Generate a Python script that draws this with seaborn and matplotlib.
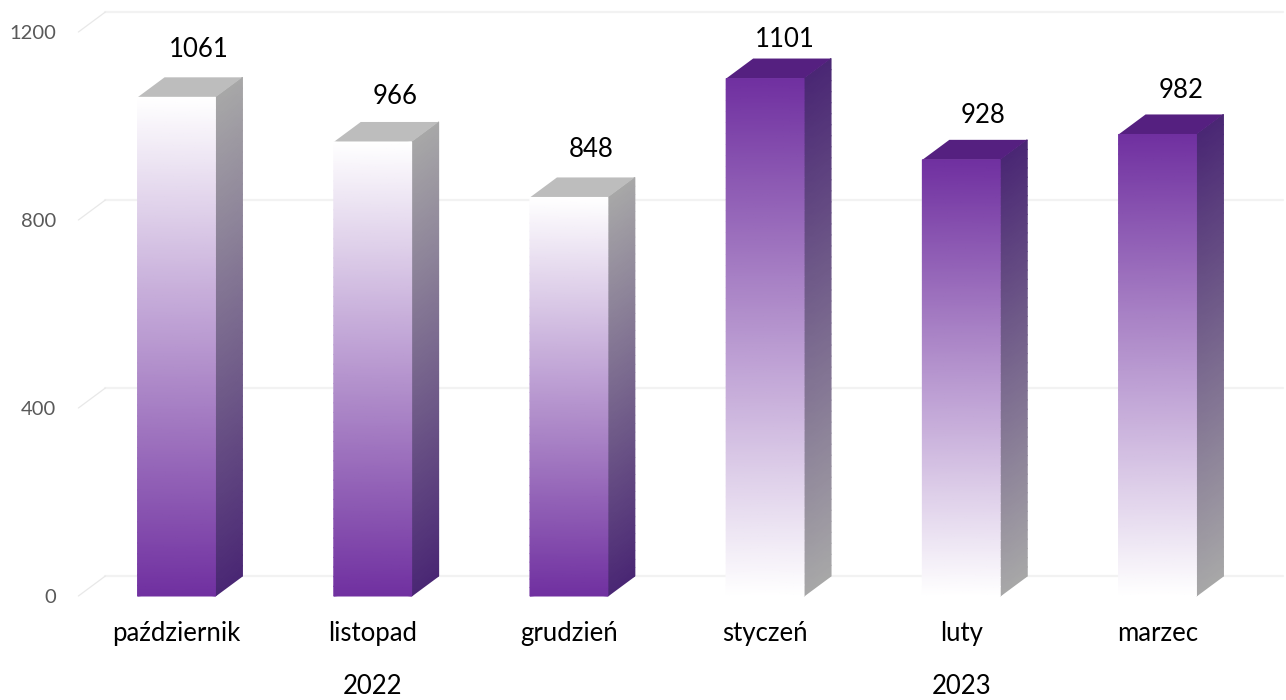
import numpy as np
import pandas as pd
import matplotlib
matplotlib.use("Agg")
import matplotlib.pyplot as plt
from matplotlib.colors import LinearSegmentedColormap
from matplotlib.transforms import ScaledTranslation
import seaborn as sns

# ---- data ----
months = ["październik", "listopad", "grudzień", "styczeń", "luty", "marzec"]
values = [1061, 966, 848, 1101, 928, 982]
years = ["2022", "2023"]
year_anchor_month = ["listopad", "luty"]
yticks = [0, 400, 800, 1200]

# ---- style ----
W, H = 1286, 700
PX_LEFT, PX_RIGHT, PX_TOP, PX_BOTTOM = 78.4, 1255.6, 32, 596
DX_PX, DY_PX = 27, 20          # depth of the 3-D extrusion in pixels
BAR_WIDTH = 0.397
PURPLE, WHITE = "#7030A0", "#FFFFFF"
SIDE_GREY, SIDE_DARK = "#A8A8A8", "#4A2774"
TOP_GREY, TOP_DARK = "#BDBDBD", "#552080"
GRID = "#F2F2F2"
GRID_DIAG = "#E8E8E8"
label_lift_px = [28, 25, 28, 19, 24, 24]
label_shift_px = [22, 22, 22, 20, 22, 24]
N_SHADE = 48

sns.set_theme(style="white")
plt.rcParams["font.family"] = ["Lato", "DejaVu Sans"]

fig = plt.figure(figsize=(W / 100, H / 100), dpi=100)
ax = fig.add_axes([PX_LEFT / W, 1 - PX_BOTTOM / H,
                   (PX_RIGHT - PX_LEFT) / W, (PX_BOTTOM - PX_TOP) / H])
df = pd.DataFrame({"poz": np.arange(len(months), dtype=float), "wartosc": values})
sns.barplot(data=df, x="poz", y="wartosc", color=PURPLE, width=BAR_WIDTH,
            saturation=1, native_scale=True, ax=ax, zorder=3)
ax.set_xlabel("")
ax.set_ylabel("")
sns.despine(ax=ax, left=True, bottom=True)

dx = DX_PX * (len(months)) / (PX_RIGHT - PX_LEFT)
dy = DY_PX * 1200 / (PX_BOTTOM - PX_TOP)

# back-wall gridlines and left-wall diagonals
for t in yticks:
    ax.plot([-0.5 + dx, len(months) - 0.5 + dx], [t + dy, t + dy],
            color=GRID, lw=1.6, clip_on=False, zorder=1)
    ax.plot([-0.5, -0.5 + dx], [t, t + dy], color=GRID_DIAG, lw=0.9,
            clip_on=False, zorder=1)

frac = np.linspace(0, 1, N_SHADE)
bars = list(ax.patches)
for i, bar in enumerate(bars):
    x0 = bar.get_x()
    x1 = x0 + bar.get_width()
    h = bar.get_height()
    first_half = i < 3
    # C=0 at the base, 1 at the top
    C = np.column_stack([frac, frac])
    front = LinearSegmentedColormap.from_list(
        "ff", [PURPLE, WHITE] if first_half else [WHITE, PURPLE])
    side = LinearSegmentedColormap.from_list(
        "ss", [SIDE_DARK, SIDE_GREY] if first_half else [SIDE_GREY, SIDE_DARK])
    ax.pcolormesh(np.column_stack([np.full(N_SHADE, x0), np.full(N_SHADE, x1)]),
                  np.column_stack([frac * h, frac * h]), C,
                  cmap=front, vmin=0, vmax=1, shading="gouraud",
                  clip_on=False, zorder=3.2)
    ax.pcolormesh(np.column_stack([np.full(N_SHADE, x1), np.full(N_SHADE, x1 + dx)]),
                  np.column_stack([frac * h, frac * h + dy]), C,
                  cmap=side, vmin=0, vmax=1, shading="gouraud",
                  clip_on=False, zorder=3.1)
    ax.fill([x0, x1, x1 + dx, x0 + dx], [h, h, h + dy, h + dy],
            color=TOP_GREY if first_half else TOP_DARK, lw=0,
            clip_on=False, zorder=3.1)
    # value label
    lift = label_lift_px[i] * 1200 / (PX_BOTTOM - PX_TOP)
    shift = label_shift_px[i] * len(months) / (PX_RIGHT - PX_LEFT)
    ax.text(i + shift, h + dy + lift, str(values[i]), ha="center", va="center",
            fontsize=18.5, color="black", clip_on=False, zorder=5)

ax.set_xlim(-0.5, len(months) - 0.5)
ax.set_ylim(0, 1200)
ax.set_yticks(yticks)
ax.set_yticklabels([str(t) for t in yticks], fontsize=14.5, color="#595959")
ax.set_xticks(range(len(months)))
ax.set_xticklabels(months, fontsize=18.5, color="black")
ax.tick_params(axis="y", length=0, pad=16)
ax.tick_params(axis="x", length=0, pad=18)

# year group labels
down = ScaledTranslation(0, -91 / 100, fig.dpi_scale_trans)
for yr, m in zip(years, year_anchor_month):
    ax.text(months.index(m), 0, yr, ha="center", va="center", fontsize=18.5,
            color="black", transform=ax.get_xaxis_transform() + down)

fig.savefig("out.png", dpi=100, facecolor="white")
